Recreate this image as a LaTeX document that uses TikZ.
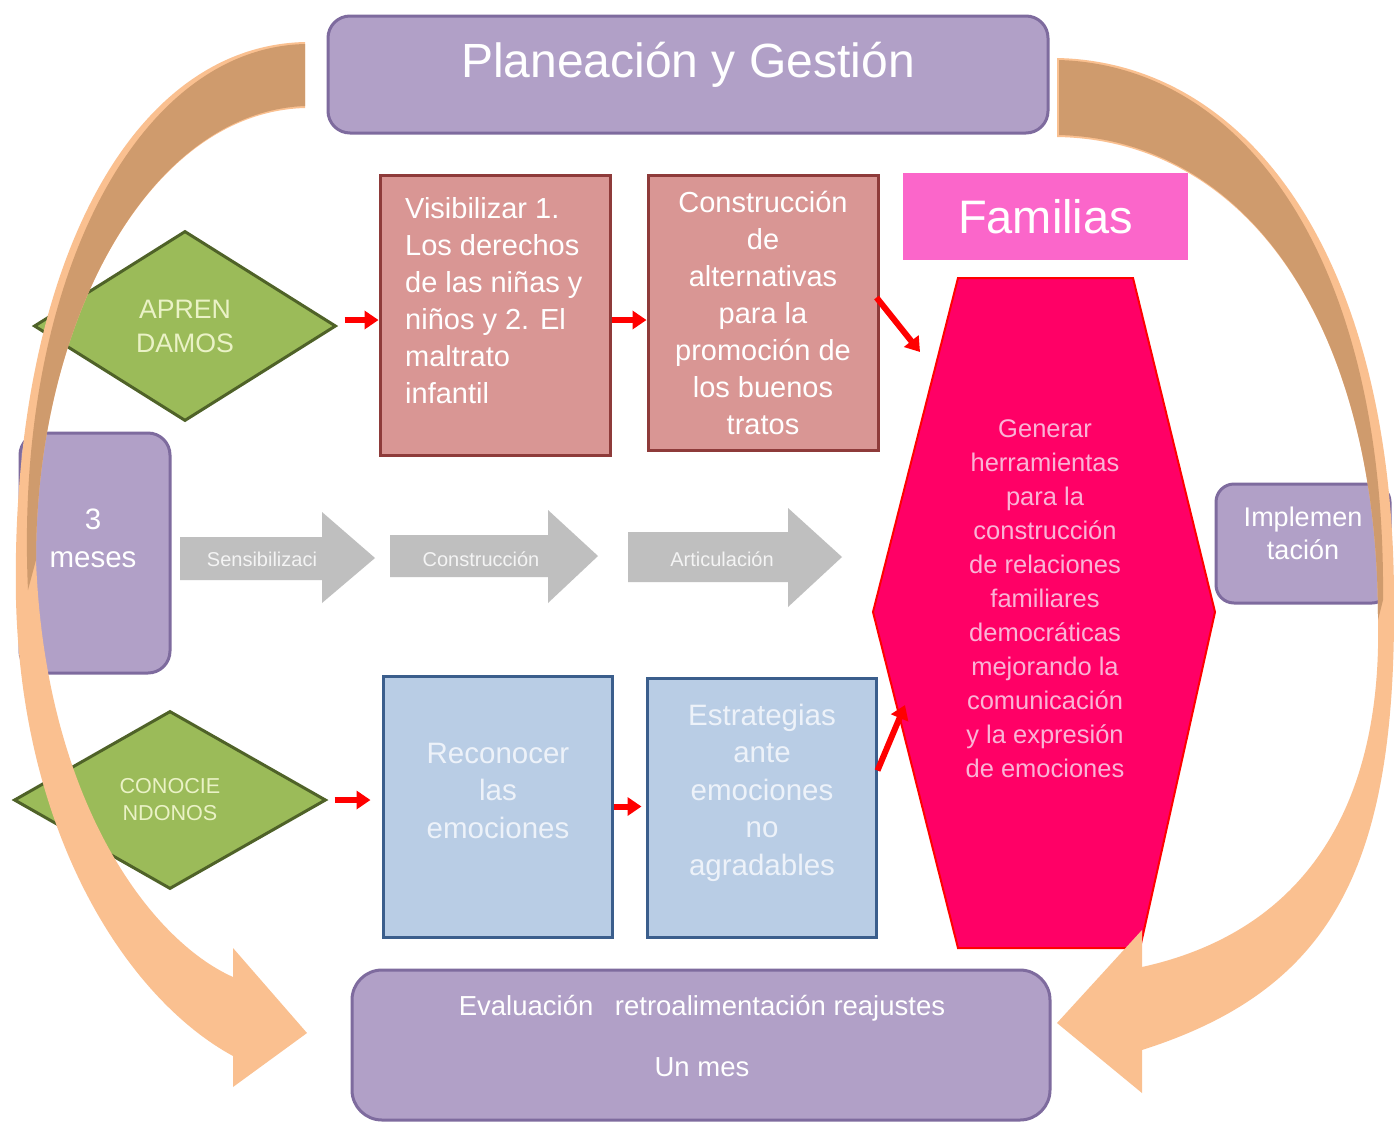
\documentclass[tikz,border=0pt]{standalone}
\usepackage{fontspec}
\setmainfont{Liberation Sans}
\usetikzlibrary{shapes.geometric,arrows.meta}

\definecolor{lila}{HTML}{B1A0C7}
\definecolor{lilaborde}{HTML}{7E6B9E}
\definecolor{rosa}{HTML}{D99694}
\definecolor{rosaborde}{HTML}{8E3B3A}
\definecolor{azul}{HTML}{B9CDE5}
\definecolor{azulborde}{HTML}{3B5E8C}
\definecolor{azultexto}{HTML}{EDF2F9}
\definecolor{verde}{HTML}{9BBB59}
\definecolor{verdeborde}{HTML}{4F6228}
\definecolor{verdetexto}{HTML}{EAF2C6}
\definecolor{fucsia}{HTML}{FF0066}
\definecolor{fucsiatexto}{HTML}{FAB4D6}
\definecolor{rosafamilia}{HTML}{FB66CA}
\definecolor{gris}{HTML}{BFBFBF}
\definecolor{gristexto}{HTML}{F4F4F4}
\definecolor{tostado}{HTML}{CF9B6D}
\definecolor{durazno}{HTML}{FAC090}

\begin{document}
\begin{tikzpicture}[x=1pt, y=-1pt,
    lilabox/.style={draw=lilaborde, line width=3pt, fill=lila, rounded corners=22pt, inner sep=0pt},
    rosabox/.style={draw=rosaborde, line width=3pt, fill=rosa, minimum width=230pt, inner sep=0pt},
    azulbox/.style={draw=azulborde, line width=3pt, fill=azul, minimum width=229pt, inner sep=0pt},
    rombo/.style={diamond, draw=verdeborde, line width=3pt, fill=verde, text=verdetexto, align=center, inner sep=0pt},
    blanco/.style={text=white, align=center, inner sep=0pt},
    azultxt/.style={text=azultexto, align=center, inner sep=0pt, font=\fontsize{29.5}{37.5}\selectfont},
    gristxt/.style={text=gristexto, inner sep=0pt, font=\fontsize{20}{24}\selectfont},
    flecha/.style={draw=red, line width=6pt, -{Triangle[length=14pt,width=18pt]}}
  ]
  \fill[white] (0,0) rectangle (1394,1122);
  \useasboundingbox (0,0) rectangle (1394,1122);

  % cajas moradas
  \node[lilabox, minimum width=720pt, minimum height=117pt] (plan) at (688,74.5) {};
  \node[blanco, font=\fontsize{48}{58}\selectfont] (plantxt) at (688,65) {Planeación y Gestión};

  \node[lilabox, minimum width=150pt, minimum height=240pt] (meses) at (95,553) {};
  \node[blanco, font=\fontsize{29.5}{38}\selectfont] (mesestxt) at (93,538) {3\\meses};

  \node[lilabox, rounded corners=18pt, minimum width=174pt, minimum height=119pt] (impl) at (1303,543.5) {};
  \node[blanco, font=\fontsize{27}{33}\selectfont] (impltxt) at (1303,533.5) {Implemen\\tación};

  \node[lilabox, rounded corners=30pt, minimum width=698pt, minimum height=150pt] (eval) at (701,1045) {};
  \node[blanco, font=\fontsize{27.5}{61}\selectfont] (evaltxt) at (702,1035.5)
    {Evaluación\hspace{14pt} retroalimentación reajustes\\Un mes};

  % fila de arriba
  \node[rombo, minimum width=302pt, minimum height=190pt, font=\fontsize{26.7}{34}\selectfont] (apren) at (185,326) {APREN\\DAMOS};

  \node[rosabox, minimum height=280pt] (visib) at (495,315) {};
  \node[blanco, align=left, anchor=west, font=\fontsize{29}{37}\selectfont] (visibtxt) at (405,300.5)
    {Visibilizar 1.\\Los derechos\\de las niñas y\\niños y 2. El\\maltrato\\infantil};

  \node[rosabox, minimum height=275pt, text=white, align=center, font=\fontsize{29}{37}\selectfont] (constr) at (763,312.5)
    {Construcción\\de\\alternativas\\para la\\promoción de\\los buenos\\tratos};

  \node[fill=rosafamilia, minimum width=285pt, minimum height=87pt, inner sep=0pt, text=white, font=\fontsize{47}{56}\selectfont] (familias) at (1045.5,216.5) {Familias};

  % hexagono
  \coordinate (h1) at (958,278);
  \coordinate (h2) at (1133,278);
  \coordinate (h3) at (1215,612);
  \coordinate (h4) at (1140,948);
  \coordinate (h5) at (958,948);
  \coordinate (h6) at (873,612);
  \filldraw[fill=fucsia, draw=red, line width=2pt] (h1) -- (h2) -- (h3) -- (h4) -- (h5) -- (h6) -- cycle;
  \node[align=center, text=fucsiatexto, inner sep=0pt, font=\fontsize{25.5}{34}\selectfont] (metatxt) at (1045,599)
    {Generar\\herramientas\\para la\\construcción\\de relaciones\\familiares\\democráticas\\mejorando la\\comunicación\\y la expresión\\de emociones};
  \coordinate (hexA) at (920,352);
  \coordinate (hexB) at (905,705);

  % flechas grises
  \fill[gris] (180,537) -- (322,537) -- (322,512) -- (375,558) -- (322,603) -- (322,580) -- (180,580) -- cycle;
  \fill[gris] (390,535) -- (548,535) -- (548,510) -- (598,556) -- (548,603) -- (548,577) -- (390,577) -- cycle;
  \fill[gris] (628,532) -- (788,532) -- (788,508) -- (842,557) -- (788,607) -- (788,582) -- (628,582) -- cycle;
  \node[gristxt] (sensib) at (262,559) {Sensibilizaci};
  \node[gristxt] (constru) at (481,559) {Construcción};
  \node[gristxt] (articu) at (722,559) {Articulación};

  % fila de abajo
  \node[rombo, minimum width=312pt, minimum height=178pt, font=\fontsize{21.6}{27}\selectfont] (conoc) at (170,800) {CONOCIE\\NDONOS};

  \node[azulbox, minimum height=261pt] (recon) at (497.5,806.5) {};
  \node[azultxt] (recontxt) at (498,790.5) {Reconocer\\las\\emociones};

  \node[azulbox, minimum height=259pt] (estrat) at (761.5,807.5) {};
  \node[azultxt] (estrattxt) at (762,792.5) {Estrategias\\ante\\emociones\\no\\agradables};

  % flechas rojas
  \draw[flecha] ([xshift=7pt,yshift=6pt]apren.east) -- ([yshift=6pt]apren.east -| visib.west);
  \draw[flecha] ([yshift=-5pt]visib.east) -- ([yshift=-5pt]visib.east -| constr.west);
  \draw[flecha] ([xshift=-3pt,yshift=15pt]constr.east) -- (hexA);
  \draw[flecha] ([xshift=7pt]conoc.east) -- ([xshift=-11pt]conoc.east -| recon.west);
  \draw[flecha] (recon.east) -- ([xshift=-4pt]recon.east -| estrat.west);
  \draw[flecha] ([yshift=37pt]estrat.east) -- (hexB);

  % flechas curvas
  \fill[durazno] (305,42) .. controls (125,46) and (10,280) .. (16,600)
    .. controls (22,840) and (130,1000) .. (233,1056) -- (233,1087) -- (307,1033) -- (233,948) -- (233,977)
    .. controls (150,940) and (45,800) .. (36,560) .. controls (36,320) and (150,112) .. (305,108) -- cycle;
  \fill[tostado] (305,44) .. controls (135,48) and (14,285) .. (28,590) -- (36,560)
    .. controls (36,320) and (150,112) .. (305,106) -- cycle;

  \fill[durazno] (1057,58) .. controls (1250,62) and (1394,260) .. (1394,600)
    .. controls (1396,870) and (1330,990) .. (1142,1050) -- (1142,1093) -- (1057,1023) -- (1142,930) -- (1142,967)
    .. controls (1310,930) and (1382,800) .. (1378,620) .. controls (1378,330) and (1250,140) .. (1057,137) -- cycle;
  \fill[tostado] (1059,60) .. controls (1250,66) and (1386,268) .. (1383,600) -- (1378,620)
    .. controls (1378,330) and (1250,140) .. (1059,135) -- cycle;

\end{tikzpicture}
\end{document}
